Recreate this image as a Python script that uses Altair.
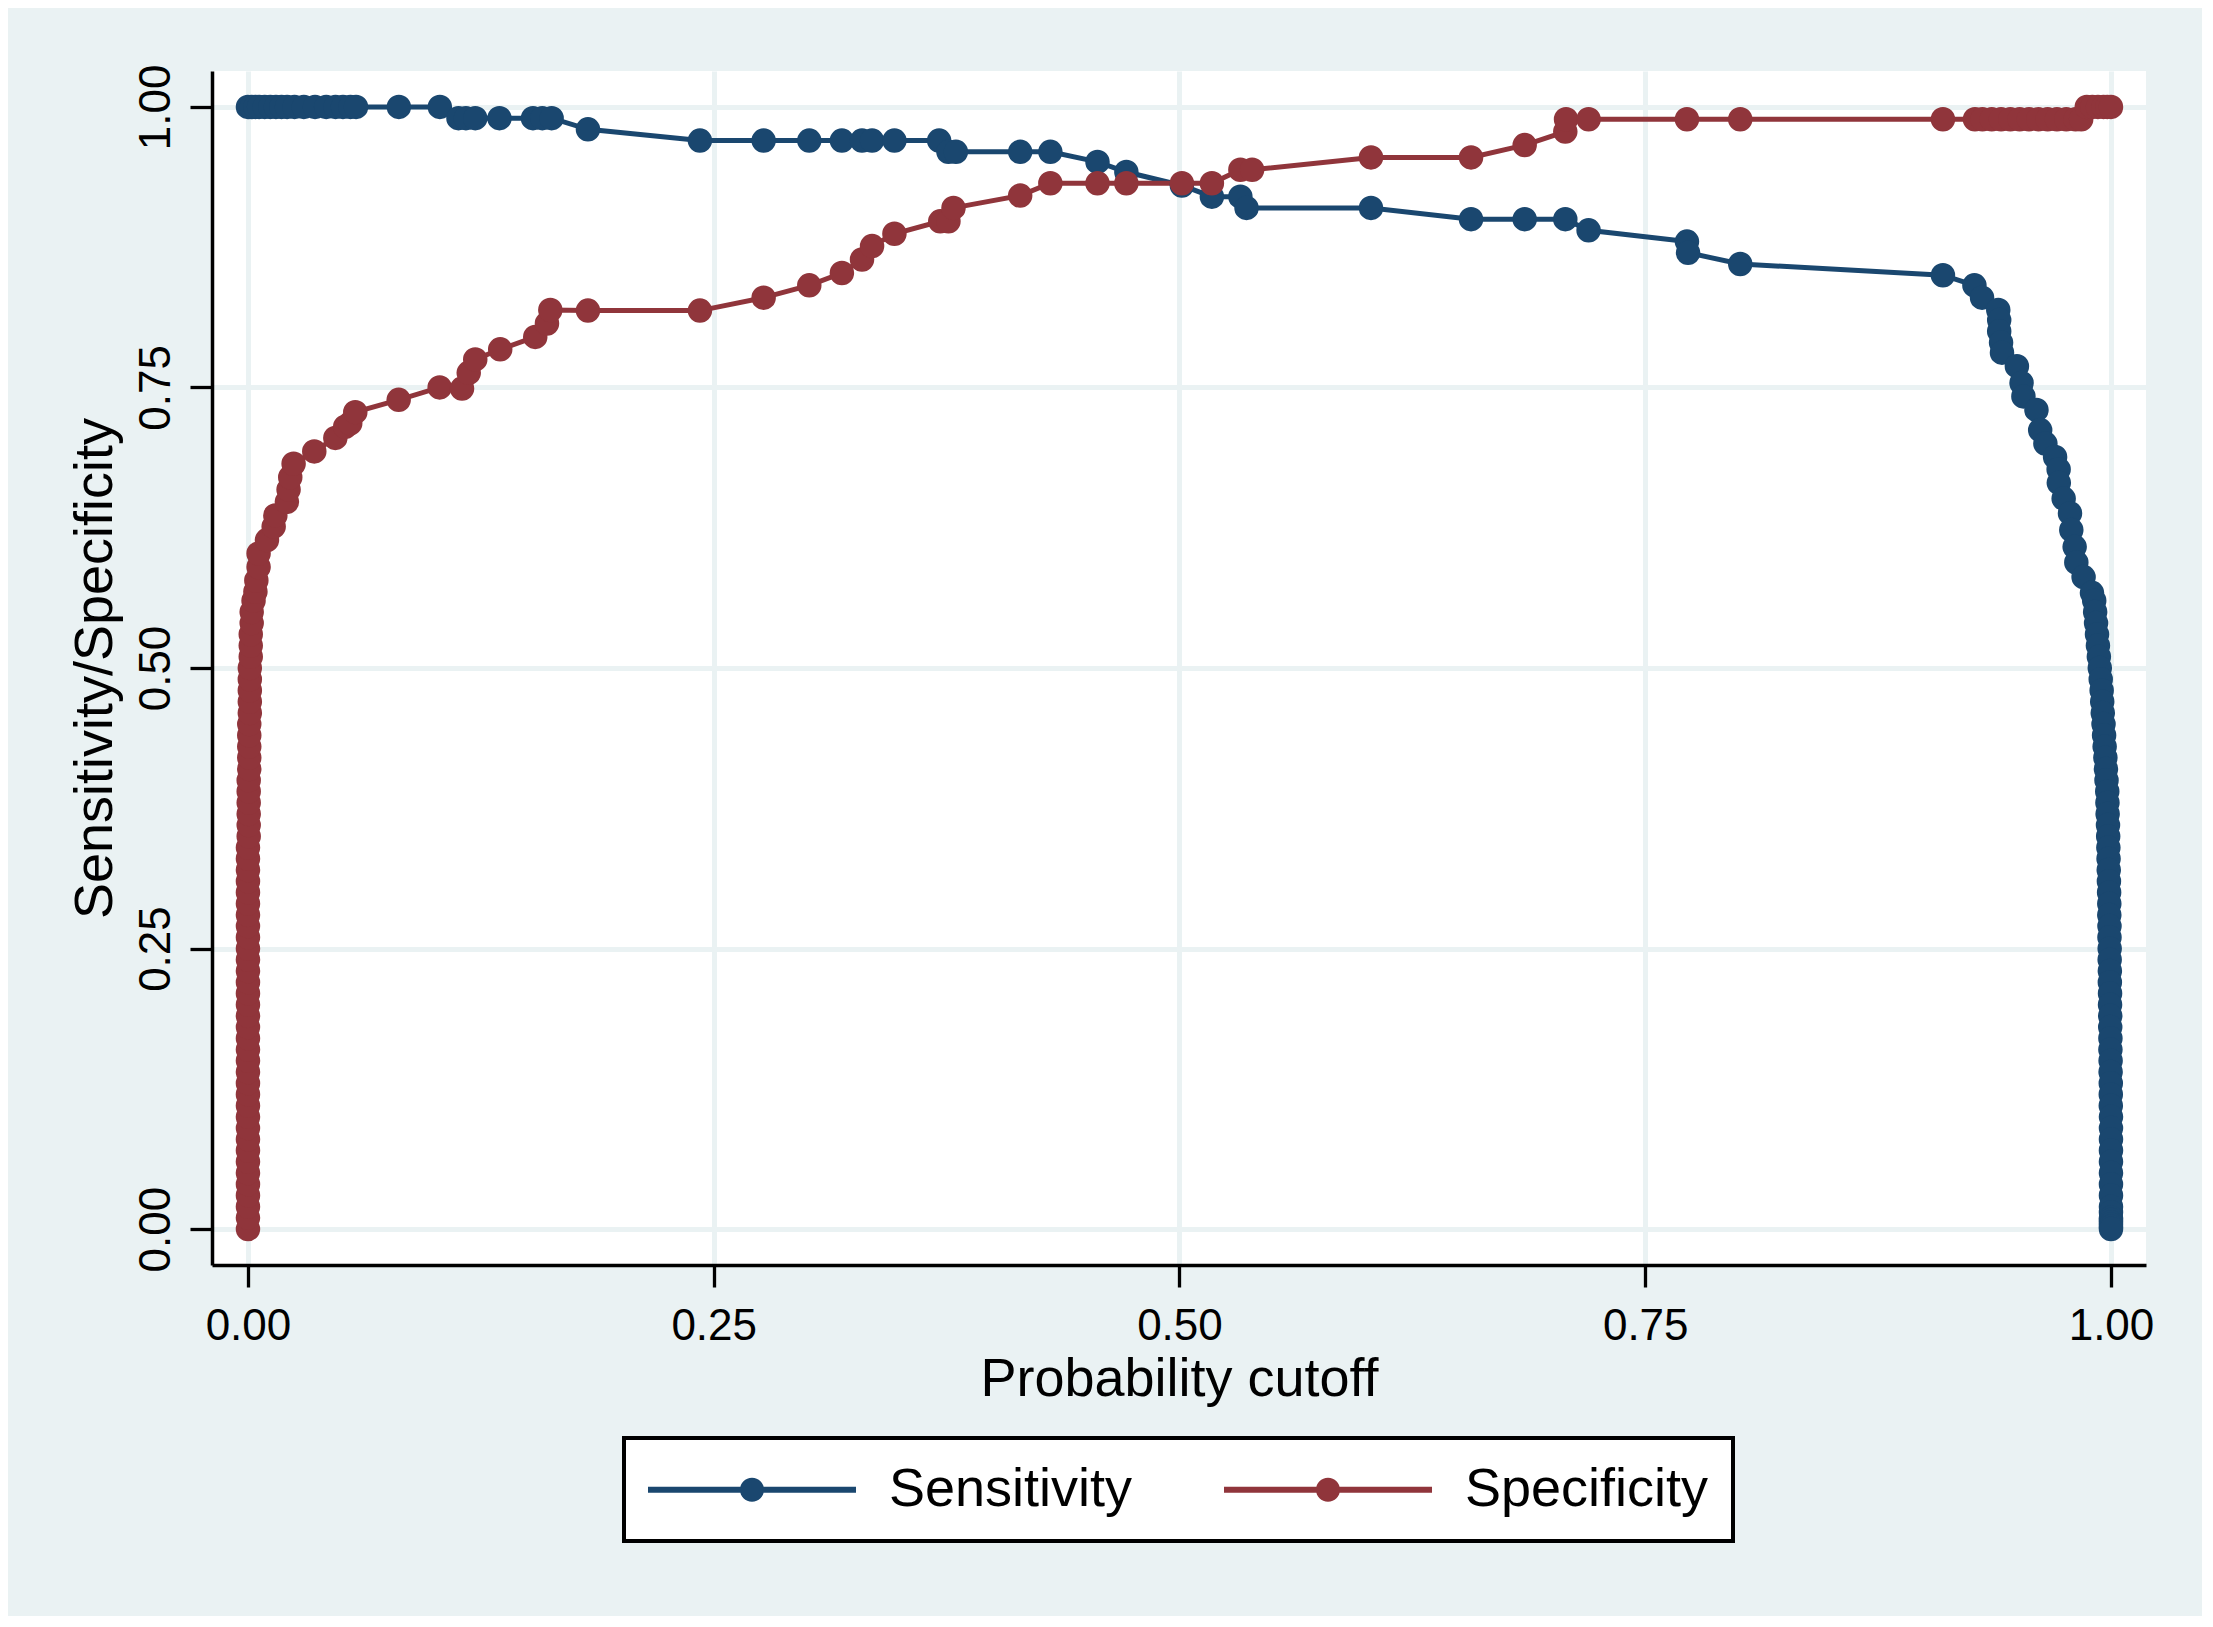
import altair as alt
import pandas as pd

# ---- Sensitivity (probability cutoff, value) ----
sens_x = [0.0, 0.002, 0.004, 0.006, 0.009, 0.012, 0.015, 0.018, 0.021, 0.025, 0.030, 0.036, 0.042, 0.047, 0.051, 0.055, 0.058,
          0.081, 0.103,
          0.113, 0.117, 0.122, 0.135, 0.153, 0.158, 0.163,
          0.1825,
          0.2426, 0.2768, 0.3013, 0.3188, 0.3296, 0.335, 0.347, 0.371,
          0.376, 0.380, 0.4145, 0.4307,
          0.456, 0.4715, 0.5013, 0.5174, 0.5327, 0.536, 0.6028,
          0.6565, 0.6853, 0.7071, 0.7196, 0.7724, 0.773, 0.801,
          0.9098, 0.9267, 0.9308,
          0.9395, 0.940, 0.940, 0.941, 0.9415, 0.9495, 0.952, 0.953, 0.960, 0.962, 0.9648, 0.970, 0.9719, 0.972,
          0.9746, 0.978, 0.9787, 0.9805, 0.9814, 0.9853, 0.9898,
          0.991, 0.9915, 0.992, 0.9925, 0.993, 0.9935, 0.994, 0.9945, 0.995, 0.9953, 0.9956, 0.996, 0.9963, 0.9966,
          0.997, 0.9973, 0.9976, 0.998, 0.9981, 0.9982, 0.9984, 0.9985, 0.9986, 0.9987, 0.9988, 0.9989, 0.999,
          0.9991, 0.9991, 0.9992, 0.9992, 0.9993, 0.9993, 0.9994, 0.9994, 0.9995, 0.9995, 0.9996, 0.9996, 0.9997,
          0.9997, 0.9998, 0.9998, 0.9999, 0.9999, 0.9999, 1.0, 1.0, 1.0, 1.0, 1.0, 1.0, 1.0, 1.0, 1.0, 1.0, 1.0,
          1.0, 1.0, 1.0, 1.0, 1.0, 1.0]
sens_y = [1.0, 1.0, 1.0, 1.0, 1.0, 1.0, 1.0, 1.0, 1.0, 1.0, 1.0, 1.0, 1.0, 1.0, 1.0, 1.0, 1.0,
          1.0, 1.0,
          0.99, 0.99, 0.99, 0.99, 0.99, 0.99, 0.99,
          0.98,
          0.97, 0.97, 0.97, 0.97, 0.97, 0.97, 0.97, 0.97,
          0.96, 0.96, 0.96, 0.96,
          0.951, 0.942, 0.93, 0.92, 0.92, 0.91, 0.91,
          0.90, 0.90, 0.90, 0.89, 0.88, 0.87, 0.86,
          0.85, 0.841, 0.83,
          0.819, 0.81, 0.80, 0.79, 0.781, 0.769, 0.754, 0.742, 0.730, 0.712, 0.70, 0.688, 0.677, 0.665,
          0.651, 0.638, 0.623, 0.608, 0.594, 0.581, 0.567,
          0.56, 0.55, 0.54, 0.53, 0.52, 0.51, 0.50, 0.49, 0.48, 0.47, 0.46, 0.45, 0.44, 0.43,
          0.42, 0.41, 0.40, 0.39, 0.38, 0.37, 0.36, 0.35, 0.34, 0.33, 0.32, 0.31, 0.30,
          0.29, 0.28, 0.27, 0.26, 0.25, 0.24, 0.23, 0.22, 0.21, 0.20, 0.19, 0.18, 0.17,
          0.16, 0.15, 0.14, 0.13, 0.12, 0.11, 0.10, 0.09, 0.08, 0.07, 0.06, 0.05, 0.04, 0.03, 0.02, 0.015,
          0.01, 0.008, 0.006, 0.004, 0.002, 0.0]

# ---- Specificity (probability cutoff, value) ----
spec_x = [0.0, 0.0, 0.0, 0.0, 0.0, 0.0, 0.0, 0.0, 0.0, 0.0, 0.0, 0.0, 0.0, 0.0, 0.0, 0.0, 0.0, 0.0, 0.0, 0.0,
          0.0, 0.0, 0.0, 0.0, 0.0, 0.0, 0.0, 0.0, 0.0, 0.0, 0.0, 0.0, 0.0, 0.0, 0.0,
          0.0004, 0.0004, 0.0004, 0.0004, 0.0004, 0.0004, 0.0007, 0.0007, 0.0007, 0.0007, 0.0007,
          0.001, 0.001, 0.001, 0.001, 0.001, 0.0015, 0.0015, 0.0015, 0.002, 0.002,
          0.003, 0.004, 0.0045, 0.0057, 0.0057, 0.0102, 0.0138, 0.0147, 0.0209, 0.0218, 0.0227, 0.0245,
          0.0356, 0.0469, 0.0522, 0.0549, 0.0576, 0.0809, 0.1029, 0.1149, 0.1185, 0.122, 0.1354, 0.1542,
          0.1605, 0.1623, 0.1825, 0.2426, 0.2768, 0.3013, 0.3188, 0.3296, 0.335, 0.347, 0.3716, 0.376,
          0.3787, 0.4145, 0.4307, 0.456, 0.4715, 0.5013, 0.5174, 0.5327, 0.539, 0.6028, 0.6565, 0.6853,
          0.7071, 0.7075, 0.7196, 0.7724, 0.801, 0.9098,
          0.927, 0.931, 0.936, 0.941, 0.946, 0.951, 0.956, 0.961, 0.966, 0.971, 0.976, 0.981, 0.984,
          0.987, 0.990, 0.993, 0.996, 0.998, 1.0]
spec_y = [0.00, 0.01, 0.02, 0.03, 0.04, 0.05, 0.06, 0.07, 0.08, 0.09, 0.10, 0.11, 0.12, 0.13, 0.14, 0.15, 0.16, 0.17, 0.18, 0.19,
          0.20, 0.21, 0.22, 0.23, 0.24, 0.25, 0.26, 0.27, 0.28, 0.29, 0.30, 0.31, 0.32, 0.33, 0.34,
          0.35, 0.36, 0.37, 0.38, 0.39, 0.40, 0.41, 0.42, 0.43, 0.44, 0.45,
          0.46, 0.47, 0.48, 0.49, 0.50, 0.51, 0.52, 0.53, 0.54, 0.55,
          0.56, 0.568, 0.578, 0.59, 0.602, 0.614, 0.626, 0.636, 0.648, 0.659, 0.67, 0.682,
          0.693, 0.705, 0.715, 0.718, 0.728, 0.739, 0.750, 0.749, 0.763, 0.775, 0.784, 0.795,
          0.807, 0.819, 0.8185, 0.8185, 0.83, 0.841, 0.852, 0.864, 0.876, 0.887, 0.898, 0.898,
          0.91, 0.921, 0.932, 0.932, 0.932, 0.932, 0.932, 0.944, 0.944, 0.955, 0.955, 0.966,
          0.978, 0.989, 0.989, 0.989, 0.989, 0.989,
          0.989, 0.989, 0.989, 0.989, 0.989, 0.989, 0.989, 0.989, 0.989, 0.989, 0.989, 0.989, 0.989,
          1.0, 1.0, 1.0, 1.0, 1.0, 1.0]

series_names = ["Sensitivity", "Specificity"]
series_colors = ["#1A476F", "#90353B"]
x_ticks = [0.0, 0.25, 0.5, 0.75, 1.0]
y_ticks = [0.0, 0.25, 0.5, 0.75, 1.0]

rows = []
for i, (xv, yv) in enumerate(zip(sens_x, sens_y)):
    rows.append({"cutoff": xv, "value": yv, "series": "Sensitivity", "ord": i})
for i, (xv, yv) in enumerate(zip(spec_x, spec_y)):
    rows.append({"cutoff": xv, "value": yv, "series": "Specificity", "ord": i})
df = pd.DataFrame(rows)

FONT = "Liberation Sans"
# legend key: a line segment with a dot on it
KEY_PATH = ("M-1,-0.11H6.564V0.11H-1Z "
            "M3.218,0A0.436,0.436,0,1,1,2.346,0A0.436,0.436,0,1,1,3.218,0Z")


def make_legend():
    return alt.Legend(title=None, orient="none", legendX=412, legendY=1367,
                      direction="horizontal",
                      symbolType=KEY_PATH, symbolSize=3025, symbolStrokeWidth=0,
                      labelFont=FONT, labelFontSize=54, labelColor="black",
                      labelLimit=500, labelOffset=186, columnPadding=91,
                      padding=24, fillColor="white", strokeColor="black")


x_enc = alt.X("cutoff:Q",
              scale=alt.Scale(domain=[-0.0193, 1.0188], nice=False, zero=False),
              axis=alt.Axis(values=x_ticks, format=".2f", title="Probability cutoff",
                            labelPadding=17, titlePadding=4, orient="bottom"))
y_enc = alt.Y("value:Q",
              scale=alt.Scale(domain=[-0.032, 1.032], nice=False, zero=False),
              axis=alt.Axis(values=y_ticks, format=".2f", title="Sensitivity/Specificity",
                            labelAngle=270, labelAlign="center", labelBaseline="bottom",
                            labelPadding=12, titlePadding=12, orient="left"))

base = alt.Chart(df).encode(x=x_enc, y=y_enc)

lines = base.mark_line(strokeWidth=5).encode(
    stroke=alt.Stroke("series:N", scale=alt.Scale(domain=series_names, range=series_colors),
                      legend=make_legend()),
    order=alt.Order("ord:Q"),
)

points = base.mark_point(filled=True, size=600, opacity=1, strokeWidth=0).encode(
    fill=alt.Fill("series:N", scale=alt.Scale(domain=series_names, range=series_colors),
                  legend=make_legend()),
)

chart = alt.layer(lines, points).properties(
    width=1934, height=1194,
    autosize=alt.AutoSizeParams(type="none"),
    padding={"left": 204, "top": 63, "right": 56, "bottom": 351},
    background="#EAF2F3",
).configure_view(
    fill="white", strokeWidth=0
).configure_axis(
    labelFont=FONT, labelFontSize=44, labelColor="black",
    titleFont=FONT, titleFontSize=54, titleFontWeight="normal", titleColor="black",
    domainColor="black", domainWidth=3.5,
    tickColor="black", tickWidth=3.3, tickSize=22,
    grid=True, gridColor="#EAF2F3", gridWidth=5,
).configure_legend(
    strokeWidth=4,
)

chart.save("out.html", embed_options={"renderer": "svg", "actions": False})
